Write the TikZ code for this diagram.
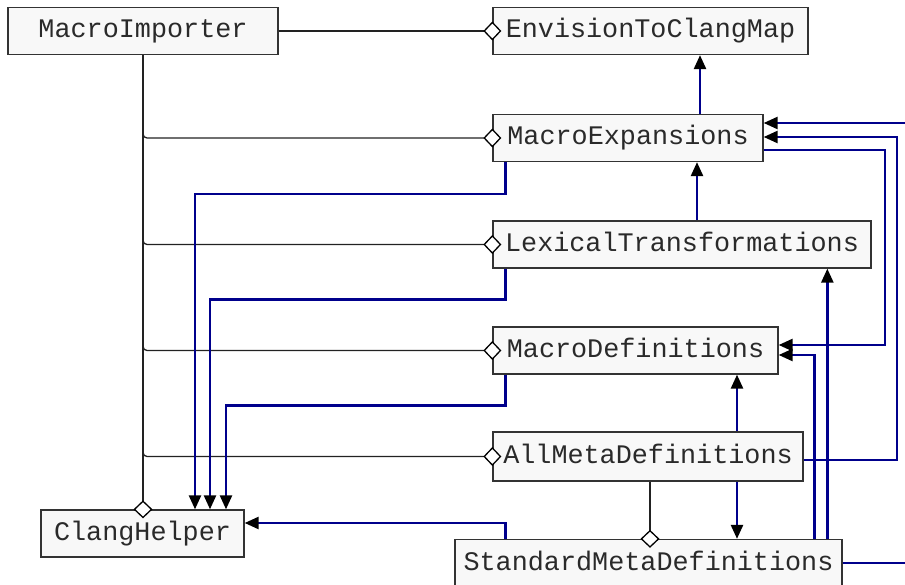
\documentclass[tikz,border=0pt]{standalone}
\usepackage{fontspec}
\setmonofont{Liberation Mono}
\usetikzlibrary{arrows.meta}
\definecolor{boxfill}{HTML}{F8F8F8}
\definecolor{boxline}{HTML}{333333}
\definecolor{ownline}{HTML}{222222}
\definecolor{depline}{RGB}{0,0,140}
\definecolor{textc}{HTML}{2A2A2A}
\tikzset{
  cls/.style={draw=boxline, fill=boxfill, line width=1.3pt,
    font=\ttfamily\fontsize{26.8}{30}\selectfont, text=textc,
    minimum height=47pt, inner sep=0pt, text height=14pt, text depth=0pt},
  owns/.style={draw=ownline, line width=1.3pt, rounded corners=4pt,
    -{Diamond[color=black, fill=white, line width=1.3pt, length=18pt, width=19pt]},
    shorten >=-9pt},
  uses/.style={draw=depline, line width=2.5pt,
    -{Triangle[black, length=14pt, width=12pt]}}
}
\begin{document}
\begin{tikzpicture}[x=1pt, y=-1pt]
  \useasboundingbox (0,0) rectangle (905,585);
  \clip (0,0) rectangle (905,585);
  \fill[white] (0,0) rectangle (905,585);

  % classes
  \node[cls, minimum width=270pt] (mi)   at (143,31)    {MacroImporter};
  \node[cls, minimum width=315pt] (etcm) at (650.5,31)  {EnvisionToClangMap};
  \node[cls, minimum width=270pt] (mexp) at (628,138)   {MacroExpansions};
  \node[cls, minimum width=378pt] (lex)  at (682,244.5) {LexicalTransformations};
  \node[cls, minimum width=285pt] (mdef) at (635.5,350.5) {MacroDefinitions};
  \node[cls, minimum width=310pt, minimum height=49pt] (amd) at (648,456.5) {AllMetaDefinitions};
  \node[cls, minimum width=203pt] (ch)   at (142.5,533.5) {ClangHelper};
  \node[cls, minimum width=387pt] (smd)  at (648.5,563) {StandardMetaDefinitions};

  % ownership links (open diamond at the owned side)
  \draw[owns] (mi.east) -- (etcm.west);
  \draw[owns] (mi.south) |- (mexp.west);
  \draw[owns] (mi.south) |- (lex.west);
  \draw[owns] (mi.south) |- (mdef.west);
  \draw[owns] (mi.south) |- (amd.west);
  \draw[owns] (mi.south) -- (mi.south |- ch.north);
  \draw[owns] ([xshift=2pt]amd.south) -- ([xshift=2pt]amd.south |- smd.north);

  % usage links
  \draw[uses] ([xshift=72pt]mexp.north) -- ([xshift=72pt]mexp.north |- etcm.south);
  \draw[uses] ([xshift=15pt]lex.north) -- ([xshift=15pt]lex.north |- mexp.south);
  \draw[uses] ([xshift=89pt]amd.north) -- ([xshift=89pt]amd.north |- mdef.south);
  \draw[uses] ([xshift=89pt]amd.south) -- ([xshift=89pt]amd.south |- smd.north);

  \draw[uses] ([xshift=13pt]mexp.south west) -- ++(0,32) -| ([xshift=52.5pt]ch.north);
  \draw[uses] ([xshift=13pt]lex.south west) -- ++(0,31) -| ([xshift=67.5pt]ch.north);
  \draw[uses] ([xshift=13pt]mdef.south west) -- ++(0,31) -| ([xshift=83.5pt]ch.north);
  \draw[uses] ([xshift=51pt]smd.north west) |- ([yshift=10.5pt]ch.east);

  \draw[uses] (smd.east) -- (920,563) |- ([yshift=15pt]mexp.east);
  \draw[uses] ([yshift=-3.5pt]amd.east) -| (897,137) -- ([yshift=1pt]mexp.east);
  \draw[uses] ([yshift=-12pt]mexp.east) -| (885,345) -- ([yshift=5.5pt]mdef.east);
  \draw[uses] ([xshift=360pt]smd.north west) |- ([yshift=-4.5pt]mdef.east);
  \draw[uses] ([xshift=373pt]smd.north west) -- ([xshift=373pt]smd.north west |- lex.south);
\end{tikzpicture}
\end{document}
